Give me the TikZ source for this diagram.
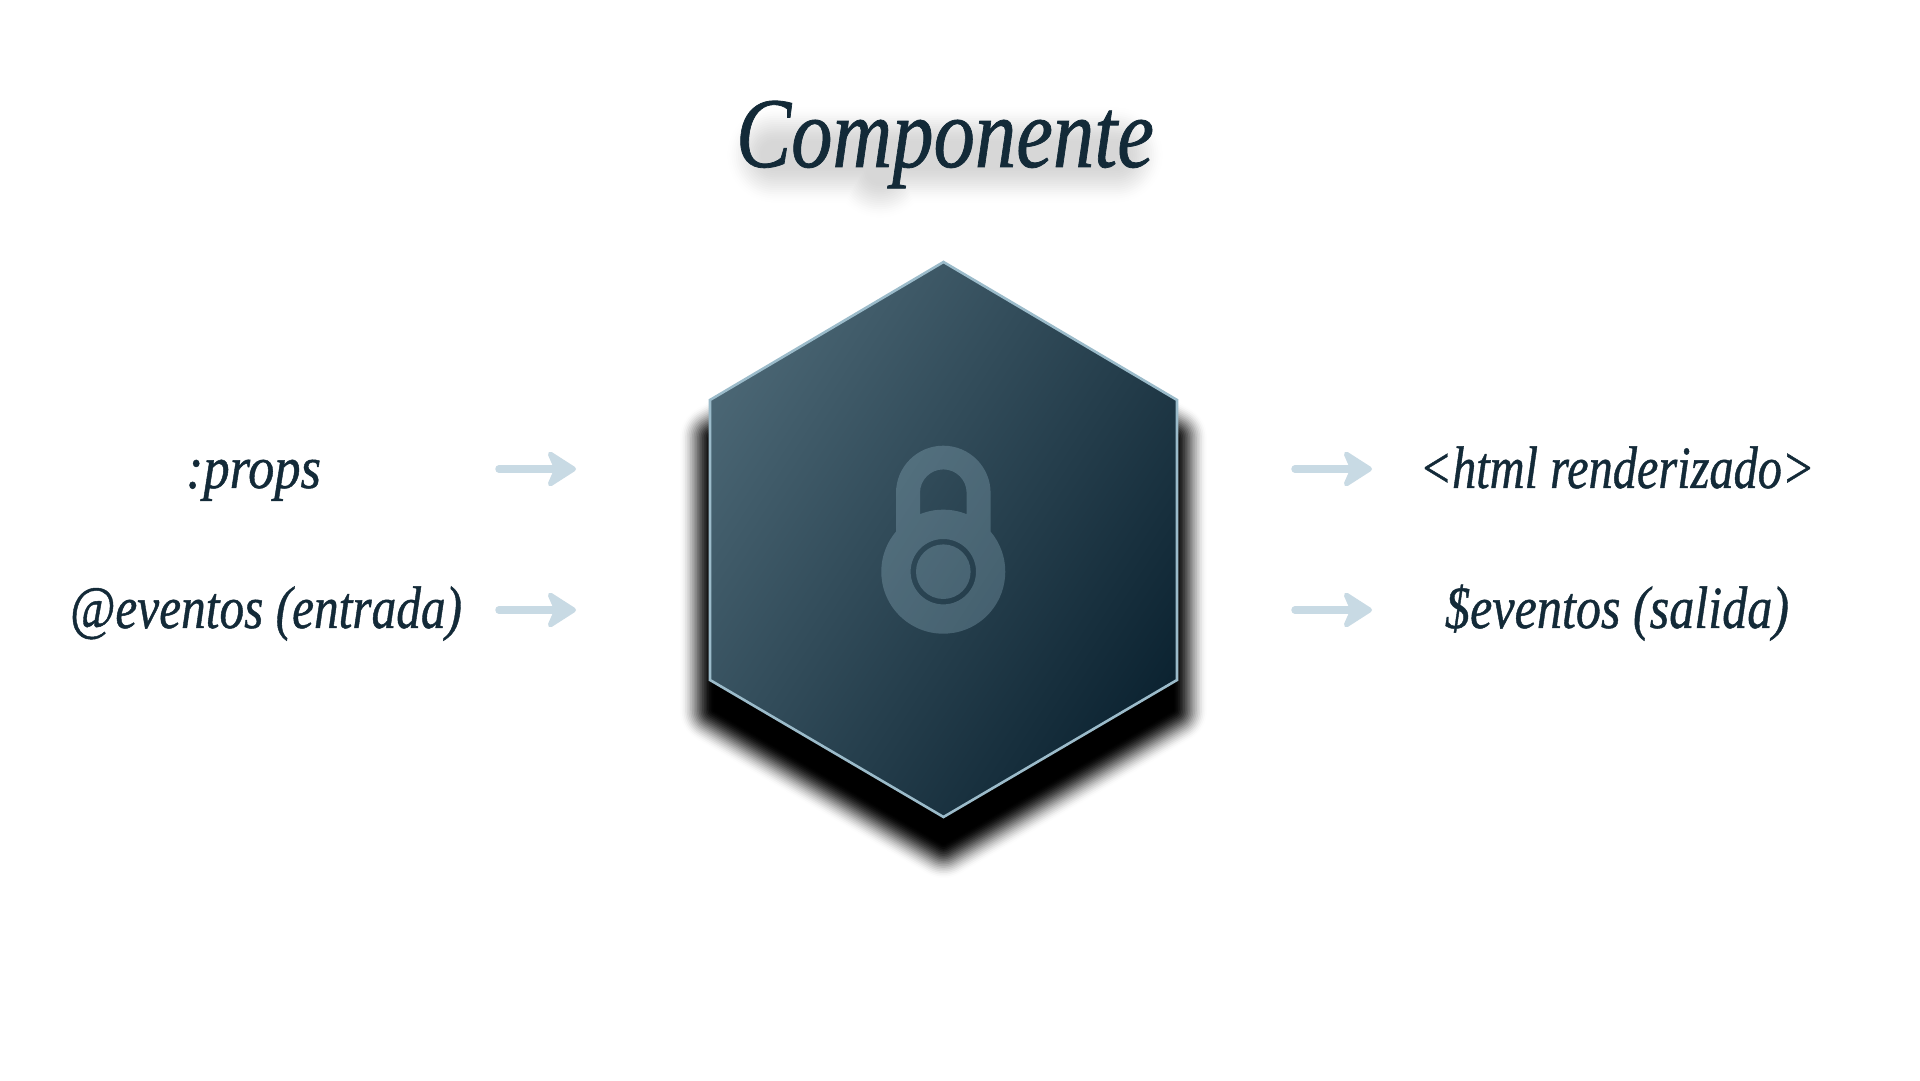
\documentclass[tikz,border=0pt]{standalone}
\usepackage{fontspec}
\usepackage{graphicx}
\usetikzlibrary{arrows.meta}
\setmainfont[ItalicFeatures={FakeBold=0.8}]{Liberation Serif}
\definecolor{inkc}{HTML}{132A38}
\definecolor{arrowc}{HTML}{C8DAE4}
\definecolor{edgec}{HTML}{9BBBCA}
\definecolor{hexlight}{HTML}{4E6A78}
\definecolor{hexdark}{HTML}{081F2D}
\definecolor{lockc}{HTML}{A8CBDB}
\tikzset{
  lbl/.style={anchor=base,inner sep=0pt,text=inkc,font=\fontsize{60}{60}\selectfont\itshape},
  ttl/.style={anchor=base,inner sep=0pt,text=inkc,font=\fontsize{100}{100}\selectfont\itshape},
  flow/.style={draw=arrowc,line width=7.5pt,line cap=round,
    -{Stealth[length=33pt,width=42pt,inset=9pt,round,line width=5pt]}},
  hexedge/.style={draw=edgec,line width=2.6pt,line join=miter}
}
\begin{document}
\begin{tikzpicture}[x=1pt,y=1pt]
\useasboundingbox (0,0) rectangle (1920,1080);
\fill[white] (0,0) rectangle (1920,1080);
% title soft shadow
\def\Nt{18}
\foreach \k in {18,17,...,1}{
  \pgfmathsetmacro\ua{(\k)/(\Nt+1)}
  \pgfmathsetmacro\ub{(\k+1)/(\Nt+1)}
  \pgfmathsetmacro\sa{1-0.15*(1-\ua*\ua*(3-2*\ua))}
  \pgfmathsetmacro\sb{1-0.15*(1-\ub*\ub*(3-2*\ub))}
  \pgfmathsetmacro\aa{1-\sa/\sb}
  \draw[black,draw opacity=\aa,line width=2*(12+\k*2.1),line cap=round,line join=round]
    (775,925)--(1115,925) (878,925)--(880,910);
}
% hexagon shadow
\def\Nh{20}
\foreach \k in {20,19,...,1}{
  \pgfmathsetmacro\ua{(\k)/(\Nh+1)}
  \pgfmathsetmacro\ub{(\k+1)/(\Nh+1)}
  \pgfmathsetmacro\sa{\ua*\ua*(3-2*\ua)}
  \pgfmathsetmacro\sb{\ub*\ub*(3-2*\ub)}
  \pgfmathsetmacro\aa{1-\sa/\sb}
  \draw[black,draw opacity=\aa,line width=2*\k*1.7,line join=round]
    (943.5,770)--(1173,642)--(1173,370)--(943.5,236)--(714,370)--(714,642)--cycle;
}
\fill[black] (943.5,770)--(1173,642)--(1173,370)--(943.5,236)--(714,370)--(714,642)--cycle;
% hexagon
\begin{scope}
\clip (943.5,818)--(1177,680)--(1177,400)--(943.5,263)--(710,400)--(710,680)--cycle;
\shade[left color=hexlight,right color=hexdark,shading angle=57]
  (943.5-300,540-300) rectangle (943.5+300,540+300);
\end{scope}
\path[hexedge] (943.5,818)--(1177,680)--(1177,400)--(943.5,263)--(710,400)--(710,680)--cycle;
% lock
\begin{scope}[shift={(943.3,508.3)}]
\fill[lockc,fill opacity=0.27,even odd rule]
  (47.3,40.1)--(47.3,78.7) arc[start angle=0,end angle=180,radius=47.3]
  --(-47.3,40.1) arc[start angle=139.7,end angle=400.3,radius=62]--cycle
  (23.3,57.5)--(23.3,79) arc[start angle=0,end angle=180,radius=23.3]
  --(-23.3,57.5) arc[start angle=112.1,end angle=67.9,radius=62]--cycle
  (0,0) circle[radius=32.7] (0,0) circle[radius=27.3];
\end{scope}
% texts
\node[ttl] (title) at (945,913) {\resizebox{418pt}{\height}{Componente}};
\node[lbl] (props) at (253.5,592) {\resizebox{135pt}{\height}{:props}};
\node[lbl] (evin) at (266,452) {\resizebox{392pt}{\height}{@eventos (entrada)}};
\node[lbl] (html) at (1617,592) {\resizebox{395pt}{\height}{<html renderizado>}};
\node[lbl] (evout) at (1617,452) {\resizebox{344pt}{\height}{\$eventos (salida)}};
% arrows
\coordinate (a1s) at (499,611); \coordinate (a1e) at (576,611);
\coordinate (a2s) at (499,470); \coordinate (a2e) at (576,470);
\coordinate (a3s) at (1295,611); \coordinate (a3e) at (1372,611);
\coordinate (a4s) at (1295,470); \coordinate (a4e) at (1372,470);
\draw[flow] (a1s)--(a1e);
\draw[flow] (a2s)--(a2e);
\draw[flow] (a3s)--(a3e);
\draw[flow] (a4s)--(a4e);
\end{tikzpicture}
\end{document}
